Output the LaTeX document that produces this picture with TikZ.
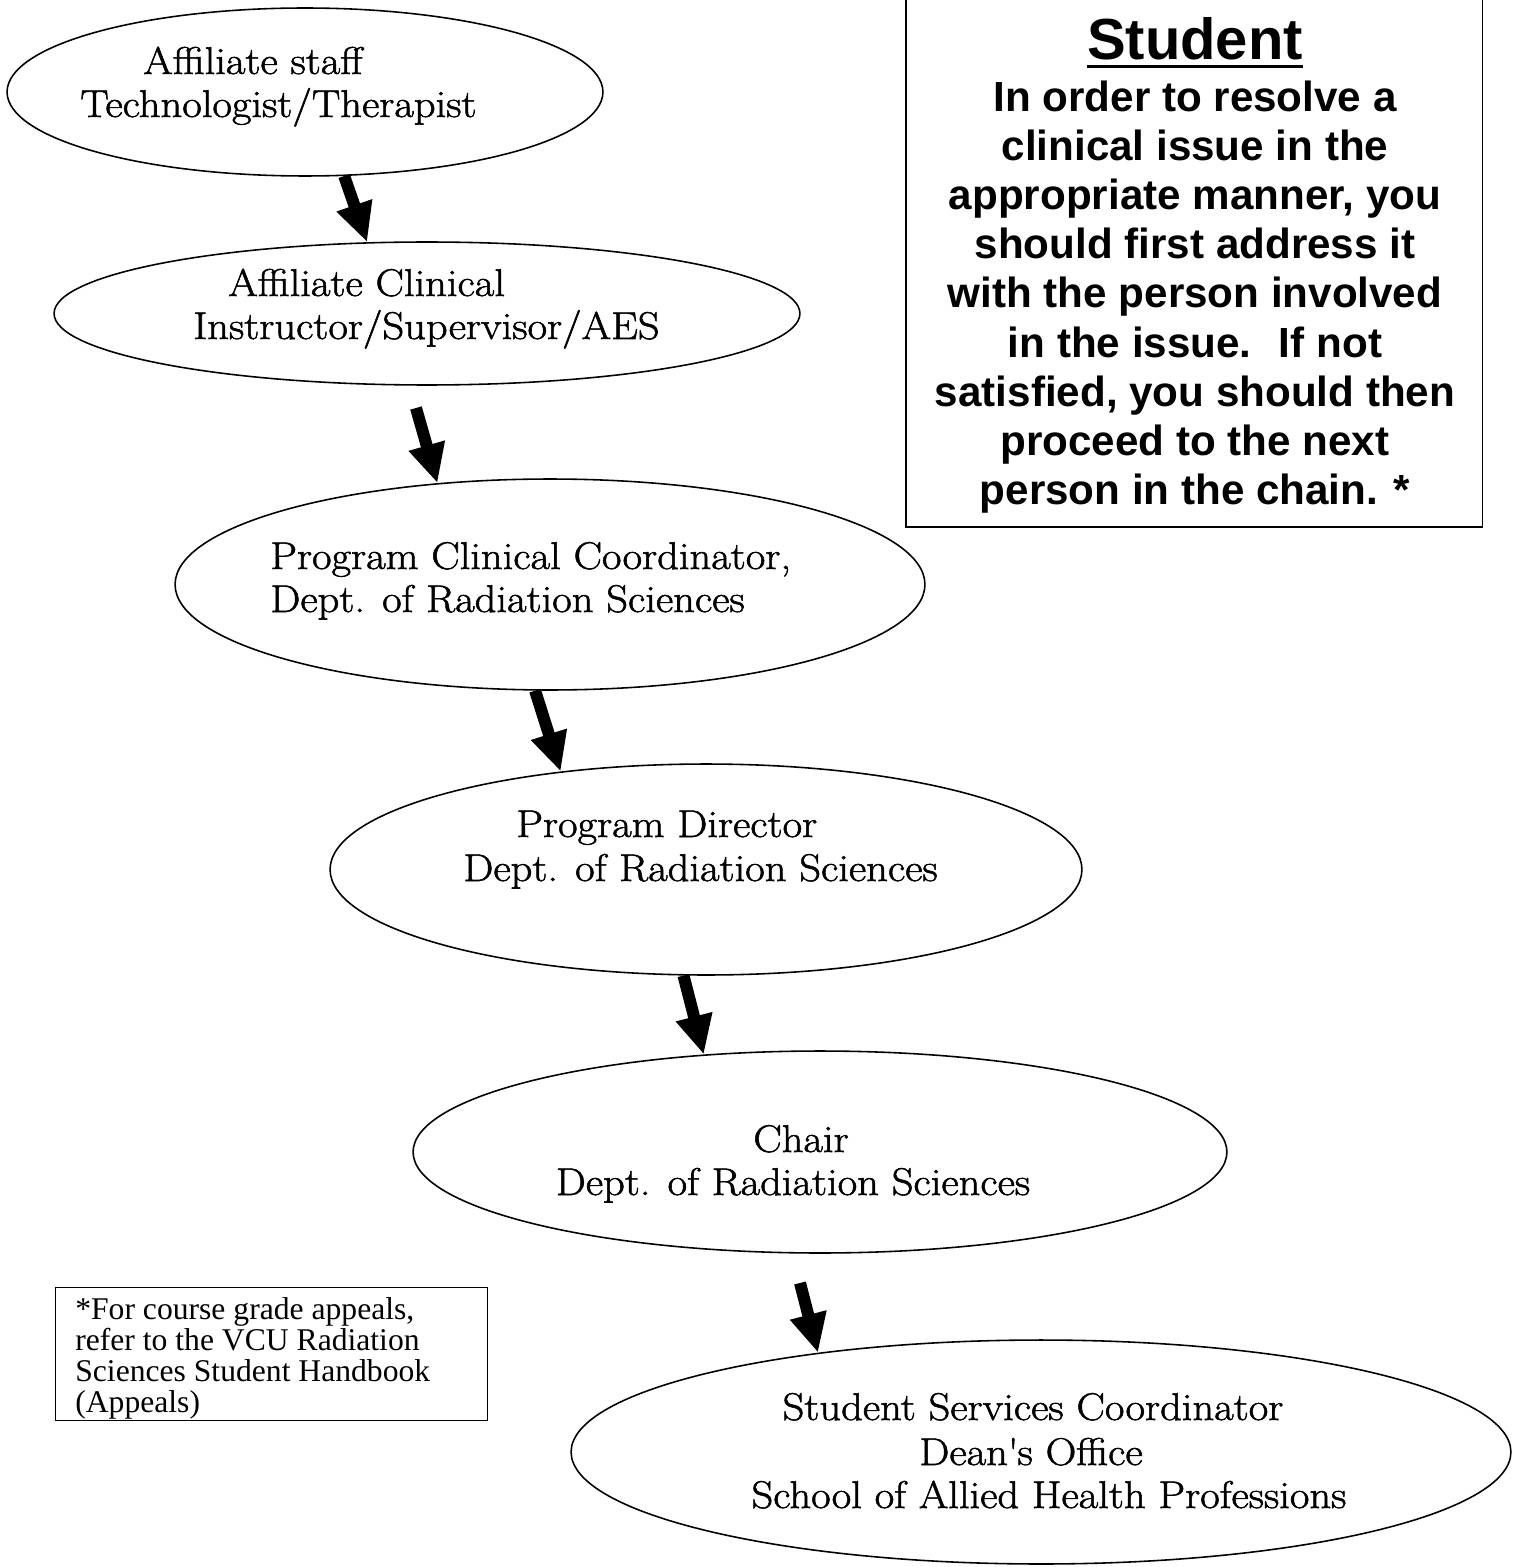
\documentclass[tikz,border=0pt]{standalone}
\usepackage{fontspec}
\usepackage{tikz}
\usetikzlibrary{shapes.geometric, arrows.meta}

\newfontfamily\arialbf{Liberation Sans}
\newfontfamily\timesrm{Liberation Serif}
\newfontfamily\schoolrm{Latin Modern Roman}[FakeStretch=1.1, FakeBold=1.4]
\newcommand{\ellfont}{\schoolrm\fontsize{22}{25}\selectfont}

\tikzset{
	stage/.style={ellipse, draw, line width=0.9pt, inner sep=0pt},
	lbl/.style={font=\ellfont, inner sep=0pt, anchor=base west},
	lblc/.style={font=\ellfont, inner sep=0pt, anchor=base},
	push/.style={line width=0.24cm, -{Triangle[length=0.78cm, width=0.7cm]}},
}

\begin{document}
\begin{tikzpicture}[x=0.02cm, y=-0.02cm]
	\useasboundingbox (0,0) rectangle (1520,1567);
	% ellipsen der kette
	\node[stage, minimum width=11.92cm, minimum height=3.36cm] (e1) at (305,92) {};
	\node[stage, minimum width=14.92cm, minimum height=2.86cm] (e2) at (427,313.5) {};
	\node[stage, minimum width=15.0cm, minimum height=4.22cm] (e3) at (550,584.5) {};
	\node[stage, minimum width=15.04cm, minimum height=4.22cm] (e4) at (706,869.5) {};
	\node[stage, minimum width=16.28cm, minimum height=4.04cm] (e5) at (820,1152) {};
	\node[stage, minimum width=18.8cm, minimum height=4.48cm] (e6) at (1041,1452) {};
	% texte in den ellipsen
	\node[lbl] (e1a) at (143,74) {Affiliate staff};
	\node[lbl] (e1b) at (80,117) {Technologist/Therapist};
	\node[lbl] (e2a) at (228,296) {Affiliate Clinical};
	\node[lbl] (e2b) at (193,339) {Instructor/Supervisor/AES};
	\node[lbl] (e3a) at (270,569) {Program Clinical Coordinator,};
	\node[lbl] (e3b) at (270,612) {Dept. of Radiation Sciences};
	\node[lbl] (e4a) at (516,837) {Program Director};
	\node[lbl] (e4b) at (463,881) {Dept. of Radiation Sciences};
	\node[lblc] (e5a) at (801,1152) {Chair};
	\node[lblc] (e5b) at (793,1195) {Dept. of Radiation Sciences};
	\node[lblc] (e6a) at (1033,1420) {Student Services Coordinator};
	\node[lblc] (e6b) at (1031,1465) {Dean\textquotesingle s Office};
	\node[lblc] (e6c) at (1049,1508) {School of Allied Health Professions};
	% pfeile
	\coordinate (s2) at (416,408);
	\coordinate (s5) at (800,1283);
	\draw[push] (e1.-65) -- (e2.130);
	\draw[push] (s2) -- (e3.138);
	\draw[push] (e3.-98) -- (e4.146);
	\draw[push] (e4.-102) -- (e5.140);
	\draw[push] (s5) -- (e6.156);
	% kasten rechts oben
	\node[draw, line width=0.9pt, inner sep=0pt, minimum width=11.54cm, minimum height=10.8cm, anchor=south west] (studentbox) at (905,528) {};
	\node[font=\arialbf\bfseries\fontsize{33}{38}\selectfont, inner sep=0pt, anchor=base] (title) at (1195,60) {Student};
	\draw[line width=1.6pt] ([yshift=-0.13cm]title.base west) -- ([yshift=-0.13cm]title.base east);
	\node[font=\arialbf\bfseries\fontsize{24}{27.9}\selectfont, inner sep=0pt, anchor=north, align=center] (rule) at (1195,81)
		{In order to resolve a\\ clinical issue in the\\ appropriate manner, you\\ should first address it\\ with the person involved\\ in the issue.~ If not\\ satisfied, you should then\\ proceed to the next\\ person in the chain. *};
	% kasten links unten
	\node[draw, line width=0.8pt, inner sep=0pt, minimum width=8.64cm, minimum height=2.66cm, anchor=north west] (gradebox) at (55,1287) {};
	\node[font=\timesrm\fontsize{18}{17.6}\selectfont, inner sep=0pt, anchor=north west, align=left] (gradenote) at (75,1297)
		{*For course grade appeals,\\ refer to the VCU Radiation\\ Sciences Student Handbook\\ (Appeals)};
\end{tikzpicture}
\end{document}
